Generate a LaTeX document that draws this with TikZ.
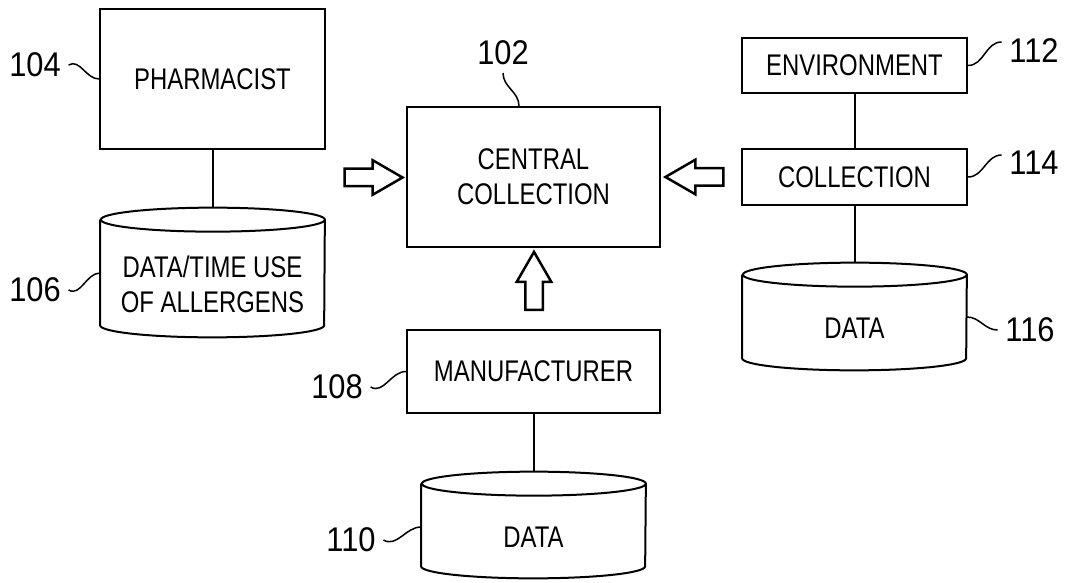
\documentclass[tikz,border=0pt]{standalone}
\usepackage{fontspec}
\newfontfamily\boxfont{Liberation Sans}[FakeStretch=0.8]
\newfontfamily\numfont{Liberation Sans}[FakeStretch=0.9]
\usetikzlibrary{shapes.arrows}

\begin{document}
\begin{tikzpicture}[x=0.2mm,y=0.2mm,
  box/.style={draw,line width=0.4mm,align=center,font=\boxfont\fontsize{17}{20}\selectfont},
  db/.style={align=center,minimum width=44.8mm,font=\boxfont\fontsize{17}{20}\selectfont},
  refnum/.style={inner sep=1.5mm,font=\numfont\fontsize{19.5}{22}\selectfont},
  lead/.style={line width=0.3mm},
  link/.style={line width=0.4mm},
  bigarrow/.style={draw,single arrow,line width=0.5mm,inner xsep=0pt,inner ysep=1.5mm,minimum height=11.6mm,single arrow head extend=1.7mm,single arrow tip angle=60}]
  \useasboundingbox (0,0) rectangle (1065,582);
  \node[box,minimum width=45mm,minimum height=28mm] (pharm) at (212.5,503) {PHARMACIST};
  \node[db,minimum height=21mm] (allergy) at (212.5,297.5) {DATA/TIME USE\\OF ALLERGENS};
  \node[box,minimum width=50.6mm,minimum height=28mm] (central) at (533.5,405) {CENTRAL\\COLLECTION};
  \node[box,minimum width=50.6mm,minimum height=16.6mm] (mfg) at (533.5,210.5) {MANUFACTURER};
  \node[db,minimum height=16.4mm] (mfgdata) at (533.5,45) {DATA};
  \node[box,minimum width=45mm,minimum height=11mm] (env) at (854.5,516.5) {ENVIRONMENT};
  \node[box,minimum width=45mm,minimum height=11.2mm] (coll) at (854.5,405) {COLLECTION};
  \node[db,minimum height=16.6mm] (envdata) at (854.5,253.5) {DATA};
  \foreach \n in {allergy,mfgdata,envdata}
    \draw[link] ([yshift=2.4mm]\n.north west) -- ([yshift=2.4mm]\n.south west)
      arc[start angle=180,end angle=360,x radius=22.4mm,y radius=2.4mm]
      -- ([yshift=2.4mm]\n.north east) arc[start angle=0,end angle=360,x radius=22.4mm,y radius=2.4mm];
  \draw[link] (pharm.south) -- ([yshift=4.8mm]allergy.north);
  \draw[link] (mfg.south) -- ([yshift=4.8mm]mfgdata.north);
  \draw[link] (env.south) -- (coll.north);
  \draw[link] (coll.south) -- ([yshift=4.8mm]envdata.north);
  \node[bigarrow] (pharmin) at (366,404.5) {};
  \node[bigarrow,rotate=180] (collin) at (702,405) {};
  \node[bigarrow,rotate=90] (mfgin) at (534,293.5) {};
  \node[refnum] (n102) at (503,529) {102};
  \node[refnum] (n104) at (35,517) {104};
  \node[refnum] (n106) at (35,292) {106};
  \node[refnum] (n108) at (337,195) {108};
  \node[refnum] (n110) at (351,42) {110};
  \node[refnum] (n112) at (1034,531) {112};
  \node[refnum] (n114) at (1034,419) {114};
  \node[refnum] (n116) at (1030,252) {116};
  \draw[lead] (n102.south) to[out=-90,in=90] ([xshift=-2.9mm]central.north);
  \draw[lead] (n104.east) to[out=30,in=180] (pharm.west);
  \draw[lead] (n106.east) to[out=-30,in=180] ([yshift=2.3mm]allergy.west);
  \draw[lead] (n108.east) to[out=-30,in=180] (mfg.west);
  \draw[lead] (n110.east) to[out=-30,in=180] ([yshift=2mm]mfgdata.west);
  \draw[lead] (env.east) to[out=0,in=180] ([yshift=1.8mm]n112.west);
  \draw[lead] (coll.east) to[out=0,in=180] ([yshift=1.6mm]n114.west);
  \draw[lead] ([yshift=2.3mm]envdata.east) to[out=0,in=180] (n116.west);
\end{tikzpicture}
\end{document}
